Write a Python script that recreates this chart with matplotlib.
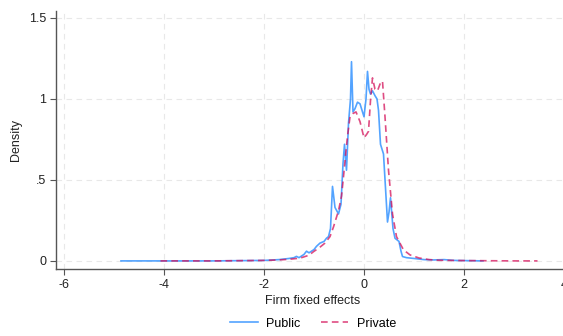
import matplotlib
matplotlib.use("Agg")
from matplotlib import pyplot as plt

plt.rcParams['font.family'] = ['Liberation Sans', 'DejaVu Sans']

# kernel density, public firms
public_x = [-4.86, -3.0, -2.0, -1.7, -1.5, -1.4, -1.35, -1.3, -1.2, -1.15, -1.1, -1.0,
            -0.95, -0.88, -0.8, -0.75, -0.71, -0.67, -0.63, -0.58, -0.51, -0.46, -0.42,
            -0.39, -0.35, -0.31, -0.27, -0.25, -0.22, -0.18, -0.13, -0.08, -0.03, 0.0,
            0.04, 0.07, 0.10, 0.13, 0.17, 0.22, 0.26, 0.29, 0.33, 0.39, 0.43, 0.47, 0.50,
            0.53, 0.58, 0.62, 0.70, 0.74, 0.77, 0.85, 1.0, 1.2, 1.4, 1.6, 1.8, 2.0, 2.38]
public_y = [0, 0, 0.003, 0.008, 0.015, 0.02, 0.028, 0.02, 0.04, 0.06, 0.05, 0.07,
            0.09, 0.11, 0.12, 0.14, 0.15, 0.2, 0.46, 0.33, 0.29, 0.35, 0.60,
            0.72, 0.56, 0.85, 1.0, 1.23, 0.92, 0.94, 0.98, 0.97, 0.92, 0.89,
            1.0, 1.17, 1.06, 1.03, 1.05, 1.02, 1.00, 0.93, 0.72, 0.66, 0.45, 0.24, 0.30,
            0.39, 0.20, 0.14, 0.12, 0.06, 0.027, 0.02, 0.015, 0.008, 0.006, 0.008, 0.003, 0.002, 0]

# kernel density, private firms
private_x = [-4.07, -3.0, -2.0, -1.7, -1.5, -1.28, -1.1, -1.01, -0.9, -0.78, -0.68, -0.61,
             -0.51, -0.45, -0.41, -0.36, -0.33, -0.28, -0.22, -0.16, -0.08, 0.0, 0.05, 0.09,
             0.13, 0.17, 0.22, 0.27, 0.33, 0.37, 0.42, 0.49, 0.57, 0.65, 0.79, 0.92, 1.1,
             1.3, 1.5, 2.0, 2.5, 3.0, 3.47]
private_y = [0, 0, 0.003, 0.006, 0.01, 0.017, 0.035, 0.057, 0.08, 0.11, 0.15, 0.21,
             0.31, 0.40, 0.52, 0.68, 0.77, 0.89, 0.91, 0.92, 0.86, 0.76, 0.78, 0.80,
             0.99, 1.13, 1.06, 1.05, 1.10, 1.11, 0.89, 0.56, 0.29, 0.15, 0.068, 0.037, 0.018,
             0.008, 0.004, 0.002, 0.001, 0.0, 0.0]

blue = '#1a85ff'
red = '#d41159'

fig = plt.figure(figsize=(5.63, 3.36), dpi=100)
ax = fig.add_axes([56 / 563, 67 / 336, 514 / 563, 258 / 336])

ax.plot(public_x, public_y, color=blue, linewidth=1.2, alpha=0.75, label='Public')
ax.plot(private_x, private_y, color=red, linewidth=1.2, alpha=0.75, linestyle=(0, (4, 2.5)), label='Private')

ax.set_xlim(-6.16, 4.12)
ax.set_ylim(-0.05, 1.543)
ax.set_xticks([-6, -4, -2, 0, 2, 4])
ax.set_xticklabels(['-6', '-4', '-2', '0', '2', '4'])
ax.set_yticks([0, 0.5, 1, 1.5])
ax.set_yticklabels(['0', '.5', '1', '1.5'])
ax.grid(True, color='#e8e8e8', linestyle=(0, (5, 4)), linewidth=0.8)
ax.set_axisbelow(True)

for s in ['top', 'right']:
    ax.spines[s].set_visible(False)
for s in ['left', 'bottom']:
    ax.spines[s].set_color('#555555')
    ax.spines[s].set_linewidth(1.0)
ax.tick_params(colors='#555555', labelcolor='#222222', labelsize=9, length=4, width=0.8, pad=3)

ax.set_xlabel('Firm fixed effects', fontsize=9, color='#222222', labelpad=3)
ax.set_ylabel('Density', fontsize=9, color='#222222', labelpad=5)

fig.legend(loc='lower center', bbox_to_anchor=(313 / 563, -0.015), ncol=2, frameon=False,
           fontsize=9, handlelength=2.2, columnspacing=1.6, handletextpad=0.7)

fig.savefig('out.png', dpi=100)
